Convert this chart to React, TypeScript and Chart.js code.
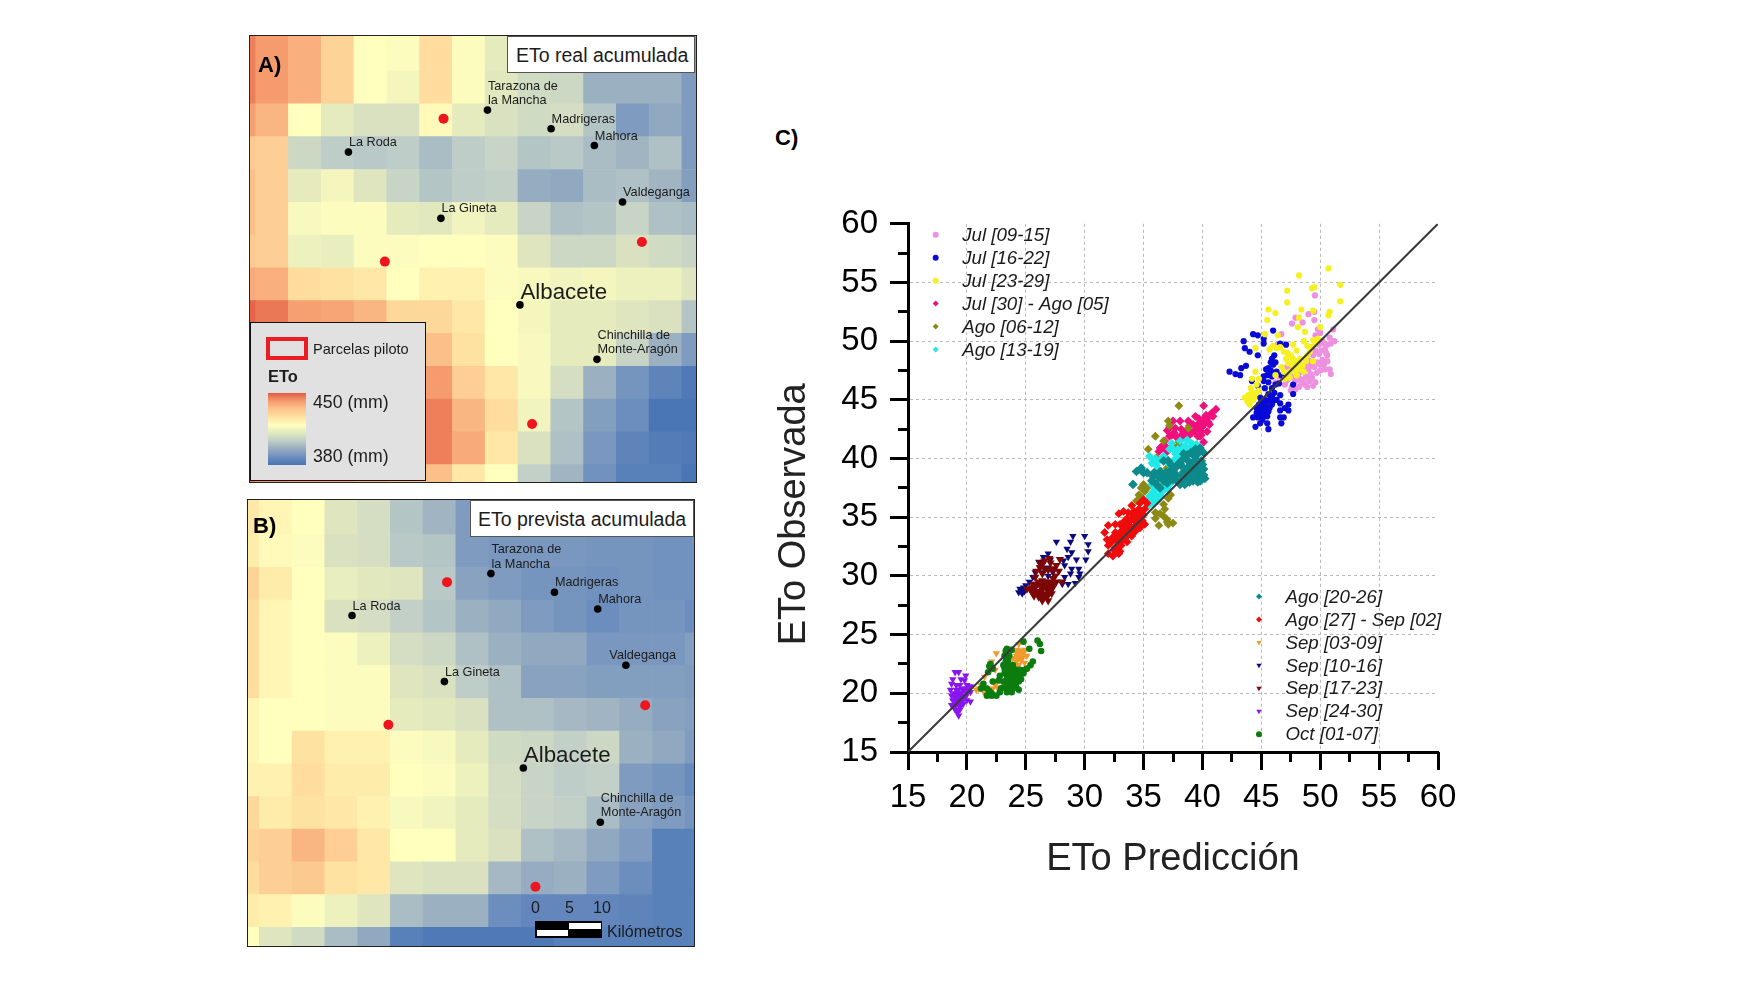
import React, { useEffect, useRef } from "react";
import { Chart, registerables } from "chart.js";
import { drawPoint } from "chart.js/helpers";

Chart.register(...registerables);

const FONT = '"Liberation Sans", Arial, sans-serif';

// ---------- map data (ETo in mm, one row per grid row, 15 columns) ----------
const mapARows: number[][] = [
  [445, 441, 437, 430, 421, 420, 428, 420, 414, 410, 408, 398, 398, 398, 392],
  [445, 441, 437, 430, 421, 418, 428, 420, 413, 409, 408, 398, 398, 398, 392],
  [440, 436, 421, 414, 411, 411, 422, 414, 411, 409, 410, 403, 392, 396, 392],
  [432, 431, 408, 405, 404, 405, 401, 405, 407, 403, 404, 401, 399, 402, 392],
  [434, 431, 414, 418, 412, 407, 403, 405, 406, 397, 396, 401, 402, 399, 393],
  [434, 431, 419, 420, 420, 414, 413, 417, 414, 407, 402, 403, 407, 402, 401],
  [432, 431, 416, 415, 420, 420, 421, 421, 420, 412, 408, 408, 411, 409, 407],
  [438, 437, 428, 427, 426, 421, 424, 424, 420, 419, 417, 418, 416, 416, 412],
  [449, 446, 440, 439, 436, 429, 429, 426, 421, 418, 414, 414, 412, 411, 403],
  [449, 445, 440, 438, 436, 431, 434, 427, 421, 419, 414, 414, 407, 398, 392],
  [449, 446, 442, 440, 438, 436, 441, 431, 426, 419, 410, 398, 390, 385, 382],
  [449, 446, 444, 442, 440, 438, 445, 436, 428, 417, 403, 393, 388, 381, 381],
  [449, 446, 444, 442, 440, 438, 445, 438, 426, 411, 402, 391, 385, 383, 382],
  [445, 442, 440, 438, 436, 434, 434, 426, 421, 406, 399, 389, 384, 384, 381],
];
const mapBRows: number[][] = [
  [426, 423, 421, 412, 410, 403, 399, 392, 390, 390, 390, 390, 390, 389, 389],
  [425, 422, 420, 411, 410, 404, 403, 392, 391, 391, 391, 390, 390, 389, 389],
  [430, 425, 421, 415, 413, 412, 404, 394, 392, 390, 390, 389, 390, 389, 389],
  [428, 423, 421, 411, 410, 406, 403, 398, 396, 392, 390, 388, 390, 390, 388],
  [428, 423, 421, 420, 416, 410, 408, 402, 398, 396, 396, 391, 391, 391, 393],
  [428, 423, 421, 420, 420, 412, 411, 405, 402, 394, 394, 393, 393, 393, 392],
  [423, 421, 421, 420, 420, 414, 413, 411, 402, 402, 400, 399, 397, 394, 393],
  [423, 421, 427, 424, 424, 420, 419, 414, 409, 408, 406, 408, 398, 396, 392],
  [424, 424, 428, 425, 425, 421, 420, 416, 410, 407, 405, 406, 392, 390, 387],
  [429, 425, 427, 426, 424, 419, 417, 414, 410, 407, 406, 401, 394, 392, 390],
  [430, 431, 436, 431, 426, 421, 421, 414, 411, 402, 400, 396, 392, 384, 384],
  [428, 431, 432, 427, 426, 412, 411, 411, 400, 397, 398, 392, 388, 384, 384],
  [425, 424, 420, 416, 412, 401, 398, 398, 388, 386, 386, 386, 385, 384, 384],
  [421, 412, 409, 401, 396, 384, 382, 382, 382, 382, 384, 384, 384, 384, 384],
];
const mapARange = { xMin: 0.827, xMax: 14.43, yMin: 0.93, yMax: 14.53 };
const mapBRange = { xMin: 0.654, xMax: 14.27, yMin: 0.94, yMax: 14.57 };

const cityNames: string[][] = [
  ["La Roda"],
  ["Tarazona de", "la Mancha"],
  ["Madrigeras"],
  ["Mahora"],
  ["Valdeganga"],
  ["La Gineta"],
  ["Albacete"],
  ["Chinchilla de", "Monte-Aragón"],
];
const cityCols = [3.83, 8.07, 10.01, 11.33, 12.19, 6.65, 9.06, 11.41];
const cityRows = [4.47, 3.19, 3.76, 4.27, 5.99, 6.49, 9.13, 10.79];
const plotCols = [6.73, 4.94, 12.78, 9.43];
const plotRows = [3.45, 7.81, 7.21, 12.76];

const rampValues = [380, 388, 397, 405, 413, 421, 427, 433, 441, 450];
const rampColors = [
  [70, 115, 180], [108, 142, 190], [150, 172, 192], [190, 205, 200], [226, 232, 190],
  [255, 255, 190], [254, 226, 162], [252, 196, 142], [245, 155, 110], [226, 92, 68],
];

// ---------- scatter data: [prediction, observed] ----------
const jul09: number[][] = [[46.2,46.5],[46.5,47],[47,46.3],[47.3,46.8],[47.6,46.1],[47.9,46.6],[48.1,47.1],[48.4,46.5],[48,47.5],[48.5,47.4],[48.8,47],[49,47.6],[49.3,46.9],[48.7,48],[49.1,48.3],[49.5,47.8],[49.8,48.2],[49.4,48.8],[49.9,48.9],[50.2,48.4],[50.4,47.6],[50.8,47.6],[50.9,47.2],[50.1,49.2],[50.4,49.3],[50.6,49.7],[50.2,50],[49.9,49.7],[51.2,50],[50.8,50.3],[51.1,51],[50,50.7],[49.6,50.5],[46.7,50.6],[47.6,51.5],[47.9,52],[48.5,51.6],[49.5,52.5],[49,52.3],[46.4,49.7],[49.5,51.8],[49.8,51],[50.6,48.8],[47.5,47.5],[48.2,48],[47.2,47.8],[49.6,46.5],[48.9,46.1],[47.9,45.9],[49.55,53.9],[50.3,49.8],[50,48],[49.2,47.2],[48.6,46.7],[47.7,46.9],[47.1,46.6],[47.4,47.2],[48.3,46.8],[48.6,47.7],[49.2,47.9],[49.7,47.3],[50,47.5],[50.3,48],[50.6,48.3],[50.5,49],[49.6,49.2],[49.3,49.5],[49.7,50],[50.9,49.8],[48.4,47.9],[49.1,46.6],[49.4,46.2],[48.2,46.1],[47.5,45.8],[48.7,46.3]];
const jul16: number[][] = [[42.3,47.4],[42.8,47.2],[43.2,47.1],[43.3,47.7],[43.7,47.9],[43.5,50],[43.6,49.4],[44,49.1],[44.7,48.8],[44.3,50.6],[44.7,50.5],[45.2,50.2],[45.2,49.8],[46,50.9],[46.6,49.8],[47.1,49.7],[45.9,48.5],[46,48],[45.6,47.7],[45.5,47.1],[46.3,47.4],[46.7,47.1],[44.2,46.6],[45.2,46.6],[45.3,46],[46.2,46.3],[46.6,45.4],[47.7,46.3],[47.7,45.5],[45.7,45],[45.2,44.6],[45.9,44.6],[44.9,44],[45.2,43.7],[44.3,43.5],[44.5,42.7],[44.9,43],[45.5,43],[45.6,42.5],[46.6,44.7],[47.3,44.6],[47,44.3],[46.6,44.1],[47.3,44.1],[46.6,43.5],[46.9,43.5],[46.7,43],[44.7,43.5],[45.3,44.2],[45.6,44],[46,44.9],[45.5,44.9],[44.6,44.3],[45,44.4],[45.4,44.5],[45.7,44.3],[45.1,43.3],[45.8,48.2],[45.6,46.5],[45.9,46],[44.8,44.6],[45,45],[45.3,45],[45.4,44.1],[45.1,44.1],[44.8,43.7],[45.5,43.6],[44.6,43.9],[45.9,45.3],[45.6,45.5],[46.1,45.6],[46.3,45],[46,47.3],[45.8,47.5],[46.2,48.2],[45.4,47.6],[45.2,47],[44.7,46.2],[46.5,46.4],[45.9,47],[46.1,48.8],[44.9,45.2]];
const jul23: number[][] = [[48.2,55.6],[50.7,56.2],[51.7,54.8],[47.2,54.3],[49.3,54.5],[49.5,54.6],[47.2,53.3],[51.7,53.4],[45.6,52.7],[46.2,52.4],[45.5,51.8],[48.4,52.7],[49.4,52.6],[50.8,52.5],[50.7,52.2],[48.2,52],[48.1,51.2],[48.7,50.8],[50,51.2],[46.4,50.5],[45.3,50.6],[44.5,49.4],[45.7,49.3],[46.3,49.4],[46.9,49.1],[47.7,49.7],[48.6,50],[49.4,50.1],[49.8,50.2],[49.1,49.1],[47.1,48.5],[47.7,48.5],[48.3,48],[48.8,48.3],[47.4,47.4],[48,47.1],[48.6,47.4],[49.4,48.3],[44.5,47.4],[44.2,46.8],[44.6,46.3],[43.9,45.4],[43.8,44.9],[44.3,45],[44.6,45.6],[44,44.6],[46.2,47.1],[46.7,47.8],[47,46.8],[48.3,48.5],[47.6,48],[48,49.2],[48.9,49.6],[44.2,45.6],[43.6,45.2],[47.9,47.8],[44.4,45.2],[44.8,45.8],[44.1,46],[44.8,46.8],[46,49.6],[46.6,49.5],[47.2,49],[47.5,48.8],[47.9,48.3],[48.2,47.6],[48.5,47.9],[48.9,48.8],[49.2,49.5],[49.6,49.8],[47.3,48.1],[47.8,47.5],[46.9,47.4],[47.4,46.9],[44,45],[43.9,44.8]];
const jul30: number[][] = [[41.15,44.2],[40.8,43.9],[40.5,43.5],[40.1,44.5],[40.9,43.6],[40.2,43],[39.8,43],[39.4,43.6],[38.8,43.2],[39.2,42.9],[39.9,42.3],[40.4,42.3],[39.5,42.5],[39.1,42.2],[38.7,42],[38.2,42],[38.1,43.2],[37.5,43.2],[37.2,42.6],[37,42.4],[37.7,42.6],[37.4,42],[36.4,40.9],[36.7,41.2],[36.3,40.6],[37,40.6],[37.8,41.8],[38.8,41.9],[40.1,41.4],[39.8,41.9],[36.8,41.5],[38.2,42.5],[38,41.2],[38.9,42.8],[40.6,42.9],[39.6,41.9],[40,42.7],[39.6,42.9],[40.3,43.3],[40.3,43.7],[39.7,43.4],[39.4,42.7],[39.9,42],[39.3,42.3],[40,43.3],[40.5,43.1],[38.4,41.8],[38.6,42.3],[37.6,42.2],[37.2,41.9],[36.6,40.9],[36.9,41],[37.3,40.9]];
const ago06: number[][] = [[38,44.5],[37.1,43.2],[37.2,42.8],[36,41.9],[36.7,41.5],[35.4,40.8],[38.8,42.6],[37.8,41.2],[36.1,40.1],[36.5,38.9],[35,37.8],[35.3,37.5],[34.8,37.5],[34.6,36.9],[34.8,36.7],[34.4,36.4],[35.1,37.2],[37.3,36.9],[37.1,36.6],[36.7,36.1],[36.8,35.7],[36,35.4],[36.4,35.3],[36.7,35.1],[36,34.9],[37,34.8],[37.1,34.4],[37.5,34.5],[36.3,34.3],[37,34.6],[36.1,35.3],[38.4,38.9],[37,39.2]];
const ago13: number[][] = [[35.4,36],[35.7,36.2],[36,36.7],[36.4,36.9],[35.4,36.5],[35.8,37.2],[36.3,37.5],[35.7,37.8],[36.7,37.8],[35.5,40.2],[35.8,39.9],[35.7,39.6],[36.1,39.4],[36,38.8],[37.4,41.3],[37.2,40.8],[37.7,40.4],[38.1,41.5],[38.7,41.6],[39.1,41.3],[38.5,41.1],[37.9,40.8],[37.5,39.8],[37,39.9],[36.7,40.2],[39.5,41.2],[36.1,38.1],[35.5,36.8],[37,37.5],[37.3,38.1],[36,37.5],[35.9,36.5],[36.6,37.2],[38.2,40.3],[38.9,40.9],[36.2,39.8],[36.2,36.4],[36.5,37.2],[35.9,37],[36.8,37.4],[37.2,37.8],[36.4,38.3],[35.9,38.5],[37.5,40.8],[37.8,40.1],[38.2,40.8],[38.6,40.6],[39.1,40.9],[37.2,39.5],[37.6,39.5],[38,39.8],[36.4,39.9],[36,40]];
const ago20: number[][] = [[34.1,37.8],[34.4,38.9],[34.8,39.2],[35,38.8],[35.3,38.8],[35.8,38.5],[35.7,38.1],[36.3,38.4],[36.7,38.1],[37.1,38.4],[37,37.9],[37.2,38.9],[37.7,39.2],[37.8,38.6],[37.5,38.2],[38.2,38.1],[38.5,37.8],[38.1,37.8],[38.8,38.4],[39.2,38.1],[39.7,38.4],[39.9,38.5],[39.8,38.1],[39.5,38.9],[39.1,39.1],[40.1,39.1],[39.9,39.8],[40.1,40.5],[39.8,40.9],[39.4,40.8],[39,40.5],[38.7,39.9],[38.4,40.4],[38.1,39.6],[39.5,39.9],[39.1,39.6],[36.7,39.8],[37.1,39.8],[37.5,38.8],[36.4,38.9],[38.4,38.8],[38.7,39.1],[39.5,39.5],[39,38.8],[39.4,38.3],[39.7,39],[40,39.5],[39.3,39.3],[38.9,38],[36.1,37.8],[36.4,37.5],[37.4,39.4],[38.3,39.3],[37.9,39.5],[38.3,39.9],[38.7,40.3],[39.2,40.3],[39.6,40.4],[39.8,39.4],[39.6,38],[39.9,38.9],[40.2,38.3],[38.6,38.3],[38.3,38.5],[37.8,38.1],[37.3,38.3],[36.9,38.8],[36.6,38.6],[35.9,38.8],[39.2,38.8],[39.9,38.2],[40.1,38.6],[38.9,39.4]];
const ago27: number[][] = [[35.3,36.2],[35,36.5],[34.7,36.2],[34,36],[33.3,35.5],[32.9,35.3],[33.7,35.4],[34.6,35.7],[35.1,35.7],[34.8,35],[35.1,34.4],[34.3,35.1],[33.8,34.6],[34.4,34.6],[33.4,34.7],[32.6,34.4],[33,34.4],[32,34.3],[31.7,33.7],[31.9,33.1],[32.6,33.7],[33.1,33.8],[33.7,34],[34.3,33.8],[34.7,34.1],[34,33.4],[33.4,33.3],[32.9,33.1],[32.3,32.9],[32,32.6],[32.6,32.4],[33.1,32.6],[33.6,32.9],[33,32.1],[32.4,31.7],[32,31.9],[32.9,31.9],[34.5,35.2],[35,35.2],[34,34.9],[34.2,34.2],[33.3,34.1],[33,33.5],[33.7,33.5],[34.9,34.7],[34.6,34.4],[32.4,33.3],[34.5,35.5],[34.2,35.5],[34.8,35.5],[34,35.3],[33.6,34.9],[33.9,34.2],[33.5,33.8],[34.1,33.7],[33.2,33.4],[32.8,33.4],[33.2,33],[32.9,32.6],[32.5,32.2],[34.5,34.9],[32.7,33],[33.5,34.4]];
const sep03: number[][] = [[21,20.4],[20.8,20.3],[21.2,20.7],[21.5,21.4],[22.1,22.7],[22.5,23.4],[22.4,22],[22.4,20.7],[22.2,20.4],[23.9,23],[24.2,23.2],[24.5,23.5],[24.9,23.7],[24.2,22.7],[24.6,22.8],[24.4,24.2],[25.1,23.2],[24.1,22.2],[23.4,21.1],[23.8,20.3],[21.5,20],[22,22.5],[24.7,23],[24.3,23.7],[24.3,22.9],[24.5,23.2],[24.8,23.4],[24.2,23.5],[24.6,23.6],[24.4,22.4],[24.9,22.6],[21.3,20.6],[22.6,20.5]];
const sep10: number[][] = [[29,33.4],[30,33.4],[27.6,32.9],[28.8,32.9],[30.3,32.7],[28.5,32.3],[28.9,32],[30.3,32.1],[26.9,31.9],[26.5,31.6],[28.6,31.6],[28.2,31.3],[29.3,31.4],[30.1,31.4],[28.3,30.9],[28.9,30.6],[29.5,30.6],[29.6,30.2],[28.8,30.2],[29.5,29.9],[29.2,29.4],[28.6,29.3],[28.1,29.3],[28.3,29.9],[24.5,28.9],[24.8,29],[24.7,28.5],[24.4,28.6],[25.6,29.9],[26.1,31.2],[26.8,30.7],[26.9,30],[26.5,30.3],[27.1,31.4],[25.8,30.3],[25.3,29.5],[27.3,30.3],[24.6,28.7],[24.9,28.7],[25,29.2],[26.2,30.7],[26.5,31.2]];
const sep17: number[][] = [[25.1,28.9],[25.5,29],[25.6,28.5],[26.1,28.2],[26.4,27.9],[26.8,28.2],[27.2,28.5],[27.3,29],[26.9,29.5],[26.4,29.6],[25.9,29.3],[26.4,28.9],[26.8,28.9],[25.9,28.6],[27.6,29.5],[28.1,29.5],[27.5,30],[25.9,30.4],[26.2,31.1],[26.6,31.3],[27.1,31.1],[27.2,30.6],[27.6,30.9],[27.9,31.4],[27.8,30.4],[26.4,30.2],[25.8,29.9],[26.9,27.9],[25.4,28.8],[26.5,28.5],[26.2,29.2],[26.2,30.7],[27.2,29.3],[26.6,29.1],[25.6,29.3],[26.1,28.7],[27,28.6],[25.7,28.3],[26.2,28.5],[26.7,28.4],[27,28.9],[26.6,29.5],[26.1,29.5],[25.8,29],[26.3,28.2],[26.5,28.1],[26.9,29.2],[27.4,29.4],[27.3,29.8],[26.9,30.5],[27.4,30.6],[26.6,30.6],[26.4,31],[25.5,28.7],[27,31.5]];
const sep24: number[][] = [[19,21.8],[19.3,21.8],[19.9,21.5],[18.8,21.2],[19.5,21.2],[19.8,21.1],[18.7,20.8],[19.4,20.7],[20,20.7],[20.3,20.6],[18.6,20.3],[19.1,20.3],[19.7,20.3],[20.3,20.1],[18.7,19.8],[19.3,19.8],[19.8,19.8],[18.8,19.4],[19.4,19.4],[20,19.4],[20.3,19.3],[18.7,19],[19.3,19],[19.7,19.1],[19,18.6],[19.4,18.6],[19.3,18.1],[19,19.6],[19.5,20],[19.1,19.2],[19.6,19.6],[18.9,20],[20,20],[19.2,20],[19.3,20.3],[19.6,20.4],[19.9,20.4],[19.2,19.4],[19.6,19.3],[19,18.9],[19.2,18.4],[19.5,18.9],[18.9,19.8],[19.9,19.7],[20.1,20.3],[19.4,19.8],[19.1,20.7]];
const oct01: number[][] = [[24.8,24.4],[26,24.5],[26.2,24.2],[26.3,23.6],[25.3,23.8],[23.4,23.8],[23.2,23.2],[23.8,23.7],[23.5,22.8],[23.1,22.4],[23.7,22],[24.2,22],[25.6,22.7],[25.4,22.4],[25.1,22.1],[24.8,21.7],[24.5,21.4],[23.9,21.4],[23.4,21.5],[22.8,21.5],[22.2,22.1],[22,22.5],[21.8,21.8],[22.1,22.2],[22.2,21],[21.4,20.8],[21.2,20.4],[21.7,20.4],[21.7,19.8],[22.1,19.8],[22.5,19.8],[22.9,20.4],[23.4,20.1],[23.8,20.1],[24.4,20.3],[24.1,20.7],[23.5,20.8],[23.1,21],[23.8,21.1],[24.4,21],[23.2,22.1],[22.7,21.1],[24.6,21.2],[23.5,21.4],[24,20.8],[23.7,20.5],[23.3,20.5],[24,21.7],[23.5,21.9],[24.2,21.3],[23.6,20.6],[23.9,20.4],[23.4,21.2],[23.1,20.5],[23.8,21.5],[24.2,20.5],[24.3,21.6],[23.2,21.7],[23.6,22.3],[23.9,22.4],[23.3,22.7],[23.6,23.2],[22.1,20],[21.9,20.2],[22.8,20.1],[24.5,22],[24.9,22],[21.9,22.3],[23.3,23.6]];
const identityLine: number[] = [15, 60];

const seriesNames = [
  "Jul [09-15]", "Jul [16-22]", "Jul [23-29]", "Jul [30] - Ago [05]", "Ago [06-12]", "Ago [13-19]",
  "Ago [20-26]", "Ago [27] - Sep [02]", "Sep [03-09]", "Sep [10-16]", "Sep [17-23]", "Sep [24-30]", "Oct [01-07]",
];
const seriesValues = [jul09, jul16, jul23, jul30, ago06, ago13, ago20, ago27, sep03, sep10, sep17, sep24, oct01];
const seriesColors = [
  "#ee90e0", "#0a0ad6", "#f6f020", "#f0107c", "#8c8a14", "#20eae8",
  "#0c8a8c", "#f00c0c", "#f09a2a", "#0a0a80", "#7c0606", "#8a14f0", "#0c7c0e",
];
const seriesStyles = [
  "circle", "circle", "circle", "rectRot", "rectRot", "rectRot",
  "rectRot", "rectRot", "triangle", "triangle", "triangle", "triangle", "circle",
];
const seriesRadius = [3.1, 3.1, 3.1, 4.4, 4.4, 4.4, 4.8, 4.4, 4.2, 4.2, 4.8, 4.2, 3.3];
const legendUpperCount = 6;

function rampColor(v: number): string {
  let i = 0;
  while (i < rampValues.length - 2 && v > rampValues[i + 1]) i++;
  const t = Math.max(0, Math.min(1, (v - rampValues[i]) / (rampValues[i + 1] - rampValues[i])));
  const c = rampColors[i].map((a, k) => Math.round(a + (rampColors[i + 1][k] - a) * t));
  return `rgb(${c[0]},${c[1]},${c[2]})`;
}

const cityLabelPlugin = {
  id: "cityLabels",
  afterDatasetsDraw(chart: any, _a: any, opts: any) {
    const { ctx, scales } = chart;
    ctx.save();
    ctx.fillStyle = "#1c1c1c";
    ctx.textAlign = "left";
    ctx.textBaseline = "alphabetic";
    cityNames.forEach((lines, i) => {
      const px = scales.x.getPixelForValue(cityCols[i]) + (opts.shift?.[i] ?? 0);
      const py = scales.y.getPixelForValue(cityRows[i]);
      const big = lines[0] === "Albacete";
      ctx.font = `${big ? 22.3 : 12.7}px ${FONT}`;
      lines.forEach((line, k) => {
        ctx.fillText(line, px + 0.5, py - 6 - (lines.length - 1 - k) * 14.6);
      });
    });
    ctx.restore();
  },
};

function MapChart({ rows, range, shift, style }: any) {
  const ref = useRef<HTMLCanvasElement>(null);
  useEffect(() => {
    const cells: any[] = [];
    const colors: string[] = [];
    rows.forEach((row: number[], r: number) =>
      row.forEach((v: number, c: number) => {
        cells.push({ x: c + 0.5, y: [r === 0 ? 0 : r + 1, r + 2] });
        colors.push(rampColor(v));
      })
    );
    const chart = new Chart(ref.current as HTMLCanvasElement, {
      type: "bar",
      data: {
        datasets: [
          {
            type: "scatter",
            data: plotCols.map((x, i) => ({ x, y: plotRows[i] })),
            backgroundColor: "#f0141e",
            borderWidth: 0,
            pointRadius: 5,
            order: 1,
          },
          {
            type: "scatter",
            data: cityCols.map((x, i) => ({ x, y: cityRows[i] })),
            backgroundColor: "#000",
            borderWidth: 0,
            pointRadius: 3.8,
            order: 1,
          },
          {
            type: "bar",
            data: cells,
            backgroundColor: colors,
            borderWidth: 0,
            barPercentage: 1,
            categoryPercentage: 1,
            order: 2,
          },
        ],
      } as any,
      options: {
        responsive: false,
        animation: false,
        devicePixelRatio: 1,
        events: [],
        layout: { padding: 0, autoPadding: false },
        scales: {
          x: { type: "linear", display: false, offset: false, min: range.xMin, max: range.xMax },
          y: { type: "linear", display: false, reverse: true, min: range.yMin, max: range.yMax },
        },
        plugins: { legend: { display: false }, tooltip: { enabled: false }, cityLabels: { shift } },
      } as any,
      plugins: [cityLabelPlugin],
    });
    return () => chart.destroy();
  }, []);
  return <canvas ref={ref} width={446} height={446} style={{ position: "absolute", ...style }} />;
}

const pointLegendPlugin = {
  id: "pointLegend",
  afterDatasetsDraw(chart: any) {
    const { ctx, scales } = chart;
    const dy = scales.y.getPixelForValue(0) - scales.y.getPixelForValue(1.953);
    const entry = (i: number, x0: number, y0: number, row: number) => {
      const x = scales.x.getPixelForValue(x0);
      const y = scales.y.getPixelForValue(y0) + row * dy;
      ctx.save();
      ctx.fillStyle = seriesColors[i];
      ctx.strokeStyle = seriesColors[i];
      ctx.lineWidth = 0;
      drawPoint(ctx, { pointStyle: seriesStyles[i], radius: 3, rotation: seriesStyles[i] === "triangle" ? 180 : 0, borderWidth: 0 } as any, x, y);
      ctx.fillStyle = "#1a1a1a";
      ctx.font = `italic 18.7px ${FONT}`;
      ctx.textAlign = "left";
      ctx.textBaseline = "middle";
      ctx.fillText(seriesNames[i], x + 26.5, y + 1);
      ctx.restore();
    };
    seriesNames.forEach((_, i) => {
      if (i < legendUpperCount) entry(i, 17.35, 59.06, i);
      else entry(i, 44.8, 28.24, i - legendUpperCount);
    });
  },
};

function ScatterChart() {
  const ref = useRef<HTMLCanvasElement>(null);
  useEffect(() => {
    const inner = (ctx: any) =>
      ctx.tick && ctx.tick.value > 15 && ctx.tick.value < 60 ? "#b9b9b9" : "rgba(0,0,0,0)";
    const minorTicks = {
      type: "linear",
      min: 15,
      max: 60,
      border: { display: false },
      grid: { drawOnChartArea: false, tickColor: "#000", tickWidth: 3, tickLength: 10 },
    };
    const major = {
      type: "linear",
      min: 15,
      max: 60,
      border: { display: true, color: "#000", width: 3, dash: [3, 3] },
      grid: { color: inner, lineWidth: 1, tickColor: "#000", tickWidth: 3, tickLength: 18 },
    };
    const chart = new Chart(ref.current as HTMLCanvasElement, {
      type: "scatter",
      data: {
        datasets: [
          {
            type: "line",
            data: identityLine.map((v) => ({ x: v, y: v })),
            borderColor: "#3a3a3a",
            borderWidth: 2,
            pointRadius: 0,
            order: 0,
          },
          ...seriesValues.map((vals, i) => ({
            label: seriesNames[i],
            data: vals.map((p) => ({ x: p[0], y: p[1] })),
            backgroundColor: seriesColors[i],
            borderWidth: 0,
            pointStyle: seriesStyles[i],
            pointRadius: seriesRadius[i],
            rotation: seriesStyles[i] === "triangle" ? 180 : 0,
            order: seriesNames.length - i,
          })),
        ],
      } as any,
      options: {
        responsive: false,
        animation: false,
        devicePixelRatio: 1,
        events: [],
        layout: { padding: { top: 22, right: 42, left: 0, bottom: 0 }, autoPadding: false },
        scales: {
          x: {
            ...major,
            position: "bottom",
            ticks: { stepSize: 5, color: "#000", padding: 8, maxRotation: 0, font: { family: FONT, size: 33 } },
            title: { display: true, text: "ETo Predicción", color: "#222", font: { family: FONT, size: 38 }, padding: { top: 0, bottom: 0 } },
            afterFit: (s: any) => { s.height = 130; },
          },
          y: {
            ...major,
            position: "left",
            ticks: { stepSize: 5, color: "#000", padding: 12, font: { family: FONT, size: 33 } },
            title: { display: true, text: "ETo Observada     ", color: "#222", font: { family: FONT, size: 38 }, padding: { top: 12, bottom: 0 } },
            afterFit: (s: any) => { s.width = 148; },
          },
          xMinor: { ...minorTicks, axis: "x", position: { y: 15 }, ticks: { stepSize: 2.5, callback: () => "" } },
          yMinor: { ...minorTicks, axis: "y", position: { x: 15 }, ticks: { stepSize: 2.5, callback: () => "" } },
        },
        plugins: { legend: { display: false }, tooltip: { enabled: false } },
      } as any,
      plugins: [pointLegendPlugin],
    });
    return () => chart.destroy();
  }, []);
  return <canvas ref={ref} width={720} height={690} style={{ position: "absolute", left: 760, top: 192 }} />;
}

const abs = (left: number, baseline: number, size: number, text: string, extra: any = {}) => (
  <div
    style={{
      position: "absolute",
      left,
      top: baseline - size,
      height: size * 1.15,
      lineHeight: `${size * 1.15}px`,
      fontFamily: FONT,
      fontSize: size,
      color: "#1c1c1c",
      whiteSpace: "nowrap",
      ...extra,
    }}
  >
    {text}
  </div>
);

const rampGradient = `linear-gradient(to bottom, ${[...rampValues]
  .reverse()
  .map((v, i) => `${rampColor(v)} ${(i * 100) / (rampValues.length - 1)}%`)
  .join(",")})`;

export default function App() {
  return (
    <div style={{ position: "absolute", left: 0, top: 0, width: 1750, height: 1000, background: "#fff", overflow: "hidden", filter: "blur(0.45px)" }}>
      <MapChart rows={mapARows} range={mapARange} style={{ left: 250, top: 36 }} />
      <MapChart rows={mapBRows} range={mapBRange} shift={[0, 0, 0, 0, -17, 0, 0, 0]} style={{ left: 248, top: 500 }} />
      <ScatterChart />

      {/* frames */}
      <div style={{ position: "absolute", left: 249, top: 35, width: 446, height: 446, border: "1.5px solid #222" }} />
      <div style={{ position: "absolute", left: 247, top: 499, width: 446, height: 446, border: "1.5px solid #222" }} />

      {/* map titles */}
      <div style={{ position: "absolute", left: 507, top: 36, width: 188, height: 37, background: "#fff", border: "1.5px solid #555", boxSizing: "border-box" }} />
      {abs(516, 63, 19.5, "ETo real acumulada")}
      <div style={{ position: "absolute", left: 470, top: 500, width: 224, height: 37, background: "#fff", border: "1.5px solid #555", boxSizing: "border-box" }} />
      {abs(478, 527, 19.5, "ETo prevista acumulada")}

      {/* panel letters */}
      {abs(258, 74, 22, "A)", { fontWeight: "bold", color: "#000" })}
      {abs(253, 535, 22, "B)", { fontWeight: "bold", color: "#000" })}
      {abs(775, 147, 22, "C)", { fontWeight: "bold", color: "#000" })}

      {/* map A key */}
      <div style={{ position: "absolute", left: 250, top: 322, width: 176, height: 159, background: "#e1e1e1", border: "1.5px solid #111", boxSizing: "border-box" }} />
      <div style={{ position: "absolute", left: 266, top: 337, width: 42, height: 23, border: "4px solid #ec1c24", boxSizing: "border-box" }} />
      {abs(313, 356, 14.6, "Parcelas piloto")}
      {abs(268, 383, 16.4, "ETo", { fontWeight: "bold" })}
      <div style={{ position: "absolute", left: 268, top: 393, width: 38, height: 72, background: rampGradient }} />
      {abs(313, 410, 17.7, "450 (mm)")}
      {abs(313, 464, 17.7, "380 (mm)")}

      {/* scale bar */}
      {abs(531, 915, 16, "0")}
      {abs(565, 915, 16, "5")}
      {abs(593, 915, 16, "10")}
      <div style={{ position: "absolute", left: 535, top: 921, width: 67, height: 17, background: "#000" }} />
      <div style={{ position: "absolute", left: 569, top: 923, width: 32, height: 6, background: "#fff" }} />
      <div style={{ position: "absolute", left: 537, top: 930, width: 31, height: 6, background: "#fff" }} />
      {abs(607, 939, 16, "Kilómetros")}
    </div>
  );
}
